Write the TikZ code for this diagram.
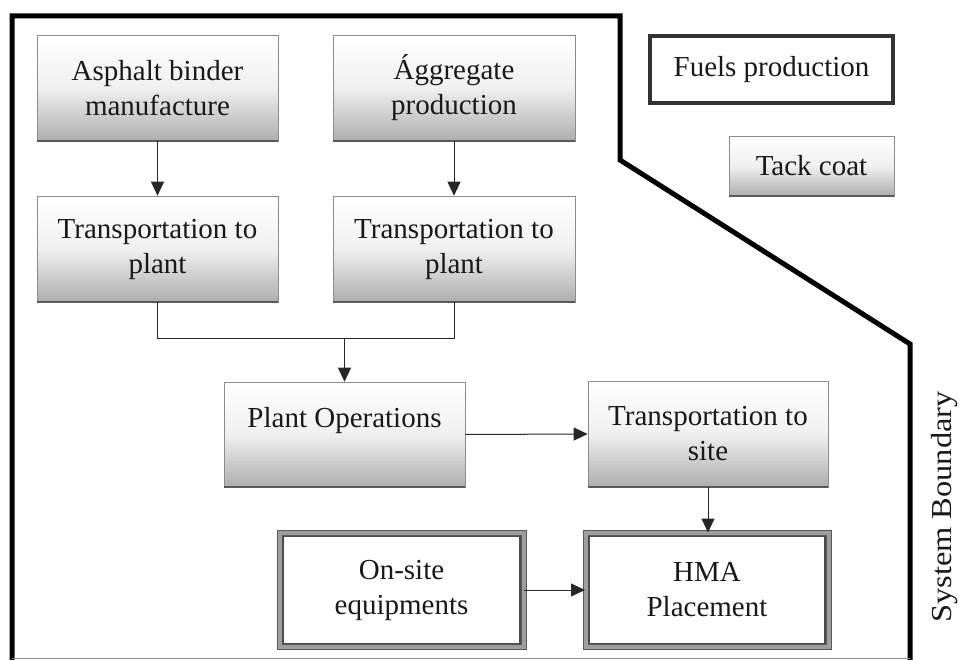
\documentclass[tikz,border=0pt]{standalone}
\usepackage{fontspec}
\setmainfont{Liberation Serif}
\usetikzlibrary{arrows.meta}

\tikzset{
  txt/.style={font=\fontsize{29}{35}\selectfont, text=black!90, align=center},
  shadebox/.style={txt, rectangle, inner sep=0pt, draw=black!45, line width=0.6pt,
    top color=white, bottom color=black!32, middle color=black!6},
  twinbox/.style={txt, rectangle, inner sep=0pt, fill=white,
    draw=black!65, line width=1pt, double=black!38, double distance=4pt},
  fuelbox/.style={txt, rectangle, inner sep=0pt, fill=white, draw=black!80, line width=3.5pt},
  flow/.style={draw=black!85, line width=1pt},
  flowarrow/.style={flow, -{Triangle[length=14pt,width=13pt]}},
  boundary/.style={draw=black, line width=5pt, line join=miter},
}

\newcommand{\baseshadow}[1]{%
  \draw[black!65, line width=2pt] (#1.south west) -- (#1.south east);}

\begin{document}
\begin{tikzpicture}[x=1pt,y=-1pt]
\useasboundingbox (0,0) rectangle (959,660);

% system boundary outline
\draw[boundary] (12,660) -- (12,16) -- (620,16) -- (620,160) -- (910,344) -- (910,660);
\draw[black!45, line width=0.8pt] (12,658) -- (910,658);

% processes inside the boundary
\node[shadebox, minimum width=241pt, minimum height=106pt] (asph) at (157.5,88) {Asphalt binder\\manufacture};
\node[shadebox, minimum width=242pt, minimum height=106pt] (aggr) at (454,88) {\'Aggregate\\production};
\node[shadebox, minimum width=241pt, minimum height=106pt] (tp1) at (157.5,249) {Transportation to\\plant};
\node[shadebox, minimum width=242pt, minimum height=106pt] (tp2) at (454,249) {Transportation to\\plant};
\node[shadebox, minimum width=241pt, minimum height=105pt] (plant) at (344.5,434.5) {Plant Operations\\\mbox{}};
\node[shadebox, minimum width=240pt, minimum height=106pt] (tsite) at (708,434) {Transportation to\\site};
\node[twinbox, minimum width=244pt, minimum height=114pt] (onsite) at (401.5,590) {On-site\\equipments};
\node[twinbox, minimum width=243pt, minimum height=114pt] (hma) at (707,590) {HMA\\Placement};

\foreach \n in {asph,aggr,tp1,tp2,plant,tsite} {\baseshadow{\n}}

% inner frames of the twin-bordered boxes
\foreach \n in {onsite,hma} {
  \draw[black!70, line width=1.1pt]
    ([shift={(4pt,-4pt)}]\n.north west) rectangle ([shift={(-4pt,4pt)}]\n.south east);
}

% processes outside the boundary
\node[fuelbox, minimum width=243pt, minimum height=67pt] (fuels) at (771.5,69.5) {Fuels production};
\node[shadebox, minimum width=165pt, minimum height=60pt] (tack) at (811.5,166) {Tack coat};
\baseshadow{tack}

\node[txt, rotate=90] (sysb) at (945,507) {\scalebox{1.12}[1]{System Boundary}};

% flows
\draw[flowarrow] (asph.south) -- (tp1.north);
\draw[flowarrow] (aggr.south) -- (tp2.north);
\coordinate (join) at (344.5,339);
\draw[flow] (tp1.south) |- (join);
\draw[flow] (tp2.south) |- (join);
\draw[flowarrow] (join) -- (plant.north);
\draw[flowarrow] (plant.east) -- (tsite.west);
\draw[flowarrow] (tsite.south) -- (tsite.south |- hma.north);
\draw[flowarrow] (onsite.east) -- (hma.west);
\end{tikzpicture}
\end{document}
